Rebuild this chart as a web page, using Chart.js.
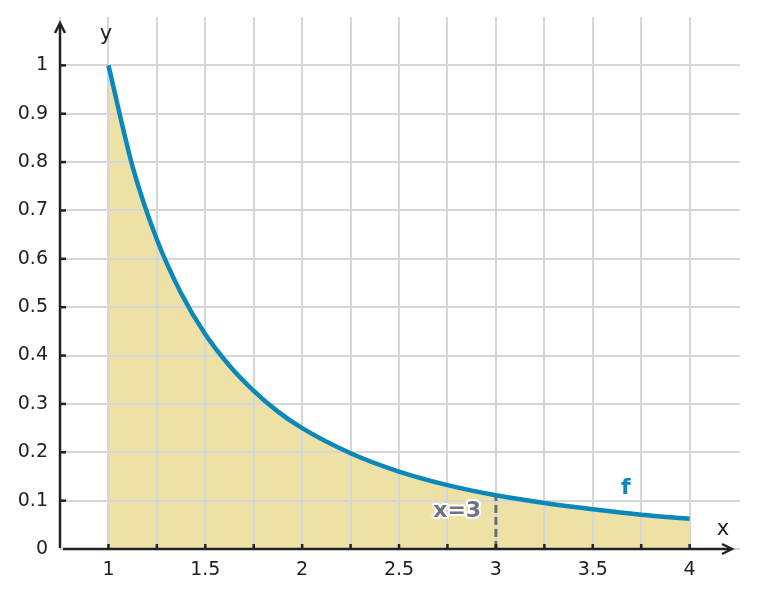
<!DOCTYPE html>
<html>
<head>
<meta charset="utf-8">
<script src="https://cdn.jsdelivr.net/npm/chart.js@4/dist/chart.umd.min.js"></script>
<style>
  body { margin: 0; background: #fff; }
  #wrap { width: 757px; height: 599px; }
</style>
</head>
<body>
<div id="wrap"><canvas id="area-chart"></canvas></div>
<script>
// values
let xValues = [1, 1.125, 1.25, 1.375, 1.5, 1.625, 1.75, 1.875, 2, 2.25, 2.5, 2.75, 3, 3.25, 3.5, 3.75, 4];
let fValues = [1, 0.79, 0.64, 0.529, 0.444, 0.379, 0.327, 0.284, 0.25, 0.198, 0.16, 0.132, 0.111, 0.095, 0.082, 0.071, 0.0625];
let xTicks = [0.75, 1, 1.25, 1.5, 1.75, 2, 2.25, 2.5, 2.75, 3, 3.25, 3.5, 3.75, 4];
let xLabels = [1, 1.5, 2, 2.5, 3, 3.5, 4];
let yTicks = [0, 0.1, 0.2, 0.3, 0.4, 0.5, 0.6, 0.7, 0.8, 0.9, 1];
let markX = 3;
let markY = 0.111;

let blue = "#0a87bb";
let gridColor = "#d6d6d6";
let axisColor = "#222222";

let curve = [];
for (let i = 0; i < xValues.length; i++) {
    curve.push({ x: xValues[i], y: fValues[i] });
}

// draw the grid again on top of the filled area, axes with arrows, labels
let extras = {
    id: "extras",
    afterDatasetDraw(chart, args) {
        if (args.index == 2) {
            chart.scales.x.drawGrid(chart.chartArea);
            chart.scales.y.drawGrid(chart.chartArea);
        }
    },
    afterDraw(chart) {
        let ctx = chart.ctx;
        let xs = chart.scales.x;
        let ys = chart.scales.y;
        let left = xs.getPixelForValue(0.75);
        let bottom = ys.getPixelForValue(0);
        ctx.save();
        ctx.strokeStyle = axisColor;
        ctx.fillStyle = axisColor;
        ctx.lineWidth = 2.5;
        ctx.lineCap = "butt";

        // y axis
        ctx.beginPath();
        ctx.moveTo(left, bottom - 1);
        ctx.lineTo(left, 24);
        ctx.stroke();
        ctx.beginPath();
        ctx.moveTo(left - 5, 33);
        ctx.lineTo(left, 23);
        ctx.lineTo(left + 5, 33);
        ctx.stroke();

        // x axis
        ctx.beginPath();
        ctx.moveTo(left + 3, bottom);
        ctx.lineTo(731, bottom);
        ctx.stroke();
        ctx.beginPath();
        ctx.moveTo(722, bottom - 5);
        ctx.lineTo(732, bottom);
        ctx.lineTo(722, bottom + 5);
        ctx.stroke();

        // tick marks, pointing inward
        for (let i = 1; i < xTicks.length; i++) {
            let px = xs.getPixelForValue(xTicks[i]);
            ctx.beginPath();
            ctx.moveTo(px, bottom);
            ctx.lineTo(px, bottom - 5);
            ctx.stroke();
        }
        for (let i = 1; i < yTicks.length; i++) {
            let py = ys.getPixelForValue(yTicks[i]);
            ctx.beginPath();
            ctx.moveTo(left, py);
            ctx.lineTo(left + 6, py);
            ctx.stroke();
        }

        // axis names
        ctx.font = "21px 'DejaVu Sans'";
        ctx.textAlign = "center";
        ctx.textBaseline = "middle";
        ctx.fillStyle = "#222";
        ctx.fillText("y", 106, 35);
        ctx.fillText("x", 723, 530);

        // curve name
        ctx.font = "bold 22px 'DejaVu Sans'";
        ctx.fillStyle = blue;
        ctx.fillText("f", xs.getPixelForValue(3.67), ys.getPixelForValue(0.126));

        // x=3 label with white halo
        let lx = xs.getPixelForValue(2.8);
        let ly = ys.getPixelForValue(0.079);
        ctx.lineJoin = "round";
        ctx.lineWidth = 4;
        ctx.strokeStyle = "#ffffff";
        ctx.strokeText("x=3", lx, ly);
        ctx.fillStyle = "#6d747e";
        ctx.fillText("x=3", lx, ly);
        ctx.restore();
    }
};

new Chart("area-chart", {
    type: "line",
    data: {
        datasets: [{
            data: curve,
            borderColor: blue,
            borderWidth: 4.5,
            fill: false,
            pointRadius: 0,
            cubicInterpolationMode: "monotone"
        }, {
            data: [{ x: markX, y: 0 }, { x: markX, y: markY }],
            borderColor: "#696e75",
            borderWidth: 3,
            borderDash: [8, 4],
            fill: false,
            pointRadius: 0
        }, {
            data: curve,
            borderWidth: 0,
            borderColor: "rgba(0,0,0,0)",
            backgroundColor: "#ede1a5",
            fill: "origin",
            pointRadius: 0,
            cubicInterpolationMode: "monotone"
        }]
    },
    plugins: [extras],
    options: {
        responsive: true,
        maintainAspectRatio: false,
        animation: false,
        layout: { padding: { left: 0, top: 17, right: 17, bottom: 0 } },
        plugins: {
            legend: { display: false },
            tooltip: { enabled: false }
        },
        scales: {
            x: {
                type: "linear",
                min: 0.75,
                max: 4.26,
                afterBuildTicks: axis => { axis.ticks = xTicks.map(v => ({ value: v })); },
                afterFit: axis => {
                    axis.height = 50;
                    axis.paddingLeft = 0;
                    axis.paddingRight = 0;
                },
                border: { display: false },
                grid: { color: gridColor, lineWidth: 2, drawTicks: false },
                ticks: {
                    padding: 10,
                    color: "#222",
                    font: { family: "DejaVu Sans", size: 19 },
                    autoSkip: false,
                    maxRotation: 0,
                    callback: v => xLabels.includes(v) ? String(v) : ""
                }
            },
            y: {
                type: "linear",
                min: 0,
                max: 1.1,
                afterBuildTicks: axis => { axis.ticks = yTicks.map(v => ({ value: v })); },
                afterFit: axis => {
                    axis.width = 60;
                    axis.paddingTop = 0;
                    axis.paddingBottom = 0;
                },
                border: { display: false },
                grid: { color: gridColor, lineWidth: 2, drawTicks: false },
                ticks: {
                    padding: 12,
                    color: "#222",
                    font: { family: "DejaVu Sans", size: 19 },
                    autoSkip: false,
                    callback: v => String(v)
                }
            }
        }
    }
});
</script>
</body>
</html>
